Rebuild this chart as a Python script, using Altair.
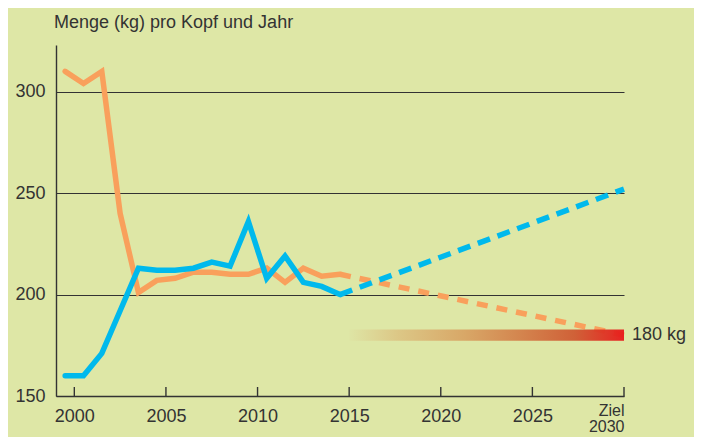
import altair as alt
import pandas as pd

# ---- data ----
years = list(range(1999, 2015))          # annual values, plotted mid-year
orange_vals = [310, 304, 310, 240, 201, 207, 208, 211, 211, 210, 210, 213, 206, 213, 209, 210]
blue_vals = [160, 160, 171, 192, 213, 212, 212, 213, 216, 214, 236, 208, 219, 206, 204, 200]

proj_x = [2014.5, 2030]
orange_proj = [210, 180]
blue_proj = [200, 252]

target_value = 180
target_label = "180 kg"
target_start, target_end = 2015, 2030
target_low, target_high = 177.2, 182.8

x_ticks = [2000, 2005, 2010, 2015, 2020, 2025, 2030]
y_ticks = [150, 200, 250, 300]
title_text = "Menge (kg) pro Kopf und Jahr"

series_names = ["Orange", "Blau"]
series_colors = ["#f9a05c", "#00b9ec"]

# ---- tables ----
hist = pd.DataFrame(
    [{"year": y + 0.5, "value": v, "series": series_names[0]} for y, v in zip(years, orange_vals)]
    + [{"year": y + 0.5, "value": v, "series": series_names[1]} for y, v in zip(years, blue_vals)]
)
proj_o = pd.DataFrame({"year": proj_x, "value": orange_proj, "series": series_names[0]})
proj_b = pd.DataFrame({"year": proj_x, "value": blue_proj, "series": series_names[1]})
target_df = pd.DataFrame([{"x": target_start, "x2": target_end, "y": target_low, "y2": target_high}])
label_df = pd.DataFrame([{"x": target_end, "y": target_value, "t": target_label}])
ticks_df = pd.DataFrame({"x": x_ticks})
title_df = pd.DataFrame([{"t": title_text}])

W, H = 568, 351
FONT = "Liberation Sans"
TXT = "#333333"

xscale = alt.Scale(domain=[1999, 2030], nice=False, zero=False)
yscale = alt.Scale(domain=[150, 323], nice=False, zero=False)
cscale = alt.Scale(domain=series_names, range=series_colors)

x_axis = alt.Axis(
    values=x_ticks, format="d", title=None, ticks=False, tickSize=0, grid=False,
    labelPadding={"condition": {"test": "datum.value == 2030", "value": 6}, "value": 11},
    labelFontSize={"condition": {"test": "datum.value == 2030", "value": 16}, "value": 18},
    labelFont=FONT, labelColor=TXT,
    labelLineHeight=16, labelBaseline="top",
    labelExpr="datum.value == 2030 ? ['Ziel', '2030'] : datum.label",
    domainColor=TXT, domainWidth=1.4,
)
y_axis = alt.Axis(
    values=y_ticks, title=None, ticks=False, tickSize=0, grid=True,
    gridColor=TXT, gridWidth=1.2, gridOpacity=1,
    labelPadding=11, labelFontSize=18, labelFont=FONT, labelColor=TXT,
    domainColor=TXT, domainWidth=1.4,
)

base_x = alt.X("year:Q", scale=xscale, axis=x_axis)
base_y = alt.Y("value:Q", scale=yscale, axis=y_axis)

hist_lines = alt.Chart(hist).mark_line(strokeWidth=5.5, strokeCap="round").encode(
    x=base_x, y=base_y,
    color=alt.Color("series:N", scale=cscale, legend=None),
    order="year:Q",
)

proj_o_line = alt.Chart(proj_o).mark_line(strokeWidth=5.5, strokeDash=[11, 9], strokeCap="butt").encode(
    x=alt.X("year:Q", scale=xscale), y=alt.Y("value:Q", scale=yscale),
    color=alt.Color("series:N", scale=cscale, legend=None),
)
proj_b_line = alt.Chart(proj_b).mark_line(strokeWidth=5.5, strokeDash=[13, 8], strokeCap="butt").encode(
    x=alt.X("year:Q", scale=xscale), y=alt.Y("value:Q", scale=yscale),
    color=alt.Color("series:N", scale=cscale, legend=None),
)

grad = alt.Gradient(
    gradient="linear", x1=0, x2=1, y1=0, y2=0,
    stops=[
        alt.GradientStop(color="#dee5a5", offset=0.0),
        alt.GradientStop(color="#dcc584", offset=0.18),
        alt.GradientStop(color="#d8a464", offset=0.42),
        alt.GradientStop(color="#d3804a", offset=0.62),
        alt.GradientStop(color="#cf5a32", offset=0.82),
        alt.GradientStop(color="#e8181a", offset=1.0),
    ],
)
target_bar = alt.Chart(target_df).mark_rect(color=grad, opacity=0.95).encode(
    x=alt.X("x:Q", scale=xscale), x2="x2:Q",
    y=alt.Y("y:Q", scale=yscale), y2="y2:Q",
)

target_text = alt.Chart(label_df).mark_text(
    align="left", baseline="middle", dx=8, fontSize=18, font=FONT, color=TXT
).encode(
    x=alt.X("x:Q", scale=xscale), y=alt.Y("y:Q", scale=yscale), text="t:N"
)

title_mark = alt.Chart(title_df).mark_text(
    align="left", baseline="alphabetic", fontSize=18, font=FONT, color=TXT
).encode(
    x=alt.value(-2), y=alt.value(-17), text="t:N"
)

inner_ticks = alt.Chart(ticks_df).mark_rule(color=TXT, strokeWidth=1.4).encode(
    x=alt.X("x:Q", scale=xscale), y=alt.value(H), y2=alt.value(H - 9)
)

chart = alt.layer(
    inner_ticks, hist_lines, proj_o_line, proj_b_line, target_bar, target_text, title_mark
).properties(
    width=W, height=H,
    autosize=alt.AutoSizeParams(type="none"),
    padding={"left": 48, "top": 37, "right": 70, "bottom": 41},
    background="#dee7a6",
).configure_view(stroke=None)

chart.save("out.html", embed_options={"renderer": "svg", "actions": False})
